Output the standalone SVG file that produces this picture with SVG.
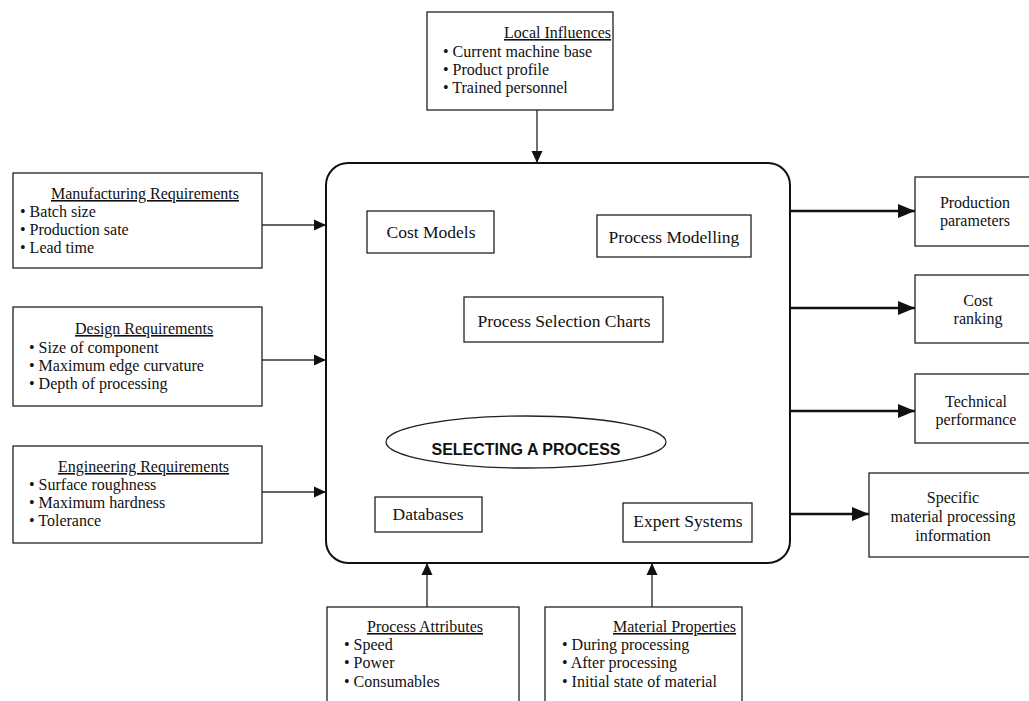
<svg xmlns="http://www.w3.org/2000/svg" width="1029" height="701" viewBox="0 0 1029 701">
<style>
.bx{fill:#fff;stroke:#222;stroke-width:1.3}
.main{fill:#fff;stroke:#111;stroke-width:2}
.t{font-family:"Liberation Serif","Times New Roman",serif;font-size:16px;fill:#111}
.ti{font-family:"Liberation Serif","Times New Roman",serif;font-size:17.5px;fill:#111}
.u{text-decoration:underline}
.c{text-anchor:middle}
.big{font-family:"Liberation Sans",Arial,sans-serif;font-size:16px;font-weight:bold;fill:#111}
.thin{stroke:#333;stroke-width:1.4;fill:none}
.thick{stroke:#111;stroke-width:2.6;fill:none}
</style>
<defs>
<marker id="ah" markerUnits="userSpaceOnUse" viewBox="0 0 12 12" refX="12" refY="6" markerWidth="12" markerHeight="12" orient="auto"><path d="M0,0.5 L12,6 L0,11.5 z" fill="#111"/></marker>
<marker id="ahb" markerUnits="userSpaceOnUse" viewBox="0 0 17 14" refX="17" refY="7" markerWidth="17" markerHeight="14" orient="auto"><path d="M0,0 L17,7 L0,14 z" fill="#111"/></marker>
</defs>
<rect width="1029" height="701" fill="#fff"/>

<g id="connectors">
<line class="thin" x1="537" y1="110" x2="537" y2="163" marker-end="url(#ah)"/>
<line class="thin" x1="262" y1="225" x2="326" y2="225" marker-end="url(#ah)"/>
<line class="thin" x1="262" y1="360" x2="326" y2="360" marker-end="url(#ah)"/>
<line class="thin" x1="262" y1="492" x2="326" y2="492" marker-end="url(#ah)"/>
<line class="thin" x1="427" y1="607" x2="427" y2="563" marker-end="url(#ah)"/>
<line class="thin" x1="652" y1="607" x2="652" y2="563" marker-end="url(#ah)"/>
<line class="thick" x1="790" y1="211" x2="915" y2="211" marker-end="url(#ahb)"/>
<line class="thick" x1="790" y1="308" x2="915" y2="308" marker-end="url(#ahb)"/>
<line class="thick" x1="790" y1="411" x2="915" y2="411" marker-end="url(#ahb)"/>
<line class="thick" x1="790" y1="514" x2="869" y2="514" marker-end="url(#ahb)"/>
</g>

<g id="main">
<rect class="main" x="326" y="163" width="464" height="400" rx="22"/>
</g>

<g id="local-influences">
<rect class="bx" x="427" y="12" width="186" height="98"/>
<text class="t u" x="504" y="38">Local Influences</text>
<text class="t" x="443" y="57">• Current machine base</text>
<text class="t" x="443" y="75">• Product profile</text>
<text class="t" x="443" y="93">• Trained personnel</text>
</g>

<g id="manufacturing">
<rect class="bx" x="13" y="173" width="249" height="95"/>
<text class="t u" x="51" y="199">Manufacturing Requirements</text>
<text class="t" x="20" y="217">• Batch size</text>
<text class="t" x="20" y="235">• Production sate</text>
<text class="t" x="20" y="253">• Lead time</text>
</g>

<g id="design">
<rect class="bx" x="13" y="307" width="249" height="99"/>
<text class="t u" x="75" y="334">Design Requirements</text>
<text class="t" x="29" y="353">• Size of component</text>
<text class="t" x="29" y="371">• Maximum edge curvature</text>
<text class="t" x="29" y="389">• Depth of processing</text>
</g>

<g id="engineering">
<rect class="bx" x="13" y="446" width="249" height="97"/>
<text class="t u" x="58" y="472">Engineering Requirements</text>
<text class="t" x="29" y="490">• Surface roughness</text>
<text class="t" x="29" y="508">• Maximum hardness</text>
<text class="t" x="29" y="526">• Tolerance</text>
</g>

<g id="cost-models">
<rect class="bx" x="367" y="211" width="127" height="42"/>
<text class="ti c" x="431" y="238">Cost Models</text>
</g>

<g id="process-modelling">
<rect class="bx" x="597" y="215" width="154" height="42"/>
<text class="ti c" x="674" y="243">Process Modelling</text>
</g>

<g id="process-selection-charts">
<rect class="bx" x="464" y="297" width="199" height="45"/>
<text class="ti c" x="564" y="327">Process Selection Charts</text>
</g>

<g id="selecting">
<ellipse cx="526" cy="442" rx="140" ry="26" fill="none" stroke="#222" stroke-width="1.3"/>
<text class="big c" x="526" y="455">SELECTING A PROCESS</text>
</g>

<g id="databases">
<rect class="bx" x="375" y="497" width="107" height="35"/>
<text class="ti c" x="428" y="520">Databases</text>
</g>

<g id="expert-systems">
<rect class="bx" x="623" y="503" width="129" height="39"/>
<text class="ti c" x="688" y="527">Expert Systems</text>
</g>

<g id="process-attributes">
<rect class="bx" x="327" y="607" width="192" height="100"/>
<text class="t u" x="367" y="632">Process Attributes</text>
<text class="t" x="344" y="650">• Speed</text>
<text class="t" x="344" y="668">• Power</text>
<text class="t" x="344" y="687">• Consumables</text>
</g>

<g id="material-properties">
<rect class="bx" x="545" y="607" width="197" height="100"/>
<text class="t u" x="613" y="632">Material Properties</text>
<text class="t" x="562" y="650">• During processing</text>
<text class="t" x="562" y="668">• After processing</text>
<text class="t" x="562" y="687">• Initial state of material</text>
</g>

<g id="production-parameters">
<rect class="bx" x="915" y="177" width="116" height="69"/>
<text class="t c" x="975" y="208">Production</text>
<text class="t c" x="975" y="226">parameters</text>
</g>

<g id="cost-ranking">
<rect class="bx" x="915" y="275" width="116" height="68"/>
<text class="t c" x="978" y="306">Cost</text>
<text class="t c" x="978" y="324">ranking</text>
</g>

<g id="technical-performance">
<rect class="bx" x="915" y="374" width="116" height="69"/>
<text class="t c" x="976" y="407">Technical</text>
<text class="t c" x="976" y="425">performance</text>
</g>

<g id="specific">
<rect class="bx" x="869" y="473" width="162" height="84"/>
<text class="t c" x="953" y="503">Specific</text>
<text class="t c" x="953" y="522">material processing</text>
<text class="t c" x="953" y="541">information</text>
</g>
</svg>
